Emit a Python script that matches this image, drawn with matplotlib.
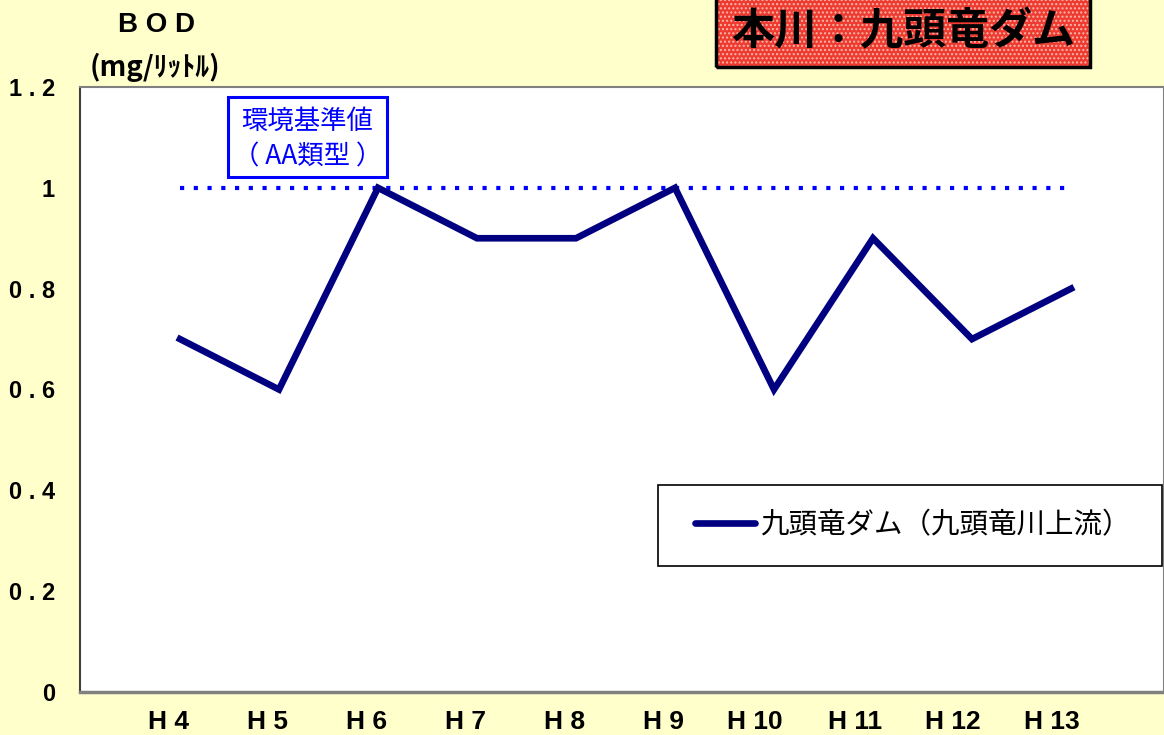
import matplotlib
matplotlib.use("Agg")
import matplotlib.pyplot as plt
from matplotlib.patches import Rectangle
from matplotlib import font_manager

plt.rcParams['font.family'] = ['Noto Sans CJK JP', 'DejaVu Sans']
plt.rcParams['hatch.linewidth'] = 1.0

categories = ["H 4", "H 5", "H 6", "H 7", "H 8", "H 9", "H 10", "H 11", "H 12", "H 13"]
bod_values = [0.7, 0.6, 1.0, 0.9, 0.9, 1.0, 0.6, 0.9, 0.7, 0.8]
standard_value = 1.0
y_ticks = [0, 0.2, 0.4, 0.6, 0.8, 1.0, 1.2]
y_tick_labels = ["0", "0 . 2", "0 . 4", "0 . 6", "0 . 8", "1", "1 . 2"]
series_label = "九頭竜ダム（九頭竜川上流）"
title_text = "本川：九頭竜ダム"
standard_label = "環境基準値\n（ AA類型 ）"

names = {f.name for f in font_manager.fontManager.ttflist}
narrow = "Liberation Sans Narrow" if "Liberation Sans Narrow" in names else "Liberation Sans"

W, H = 1164, 735
bg = "#FFFFCC"
fig = plt.figure(figsize=(W / 100, H / 100), dpi=100, facecolor=bg)

ax_left, ax_right, ax_top, ax_bottom = 80, 1164, 87, 692
ax = fig.add_axes([ax_left / W, 1 - ax_bottom / H, (ax_right - ax_left) / W, (ax_bottom - ax_top) / H])
ax.set_facecolor("white")

x = list(range(len(categories)))
ax.plot(x, bod_values, color="#000080", lw=4.8, solid_joinstyle="miter", label=series_label, zorder=3)
ax.plot([x[0], x[-1]], [standard_value, standard_value], color="#0000FF", lw=3.0,
        linestyle=(0, (1.0, 2.3)), zorder=2)

sp = 99.0
ax.set_xlim(-(180 - ax_left) / sp, (ax_right - 180) / sp)
ax.set_ylim(0, 1.2)

ax.set_yticks(y_ticks)
ax.set_yticklabels(y_tick_labels, fontfamily=narrow, fontweight="bold", fontsize=17)
ax.set_xticks(x)
ax.set_xticklabels([])
ax.tick_params(axis="both", length=0)
ax.tick_params(axis="y", pad=18)

for i, lab in enumerate(categories):
    ax.annotate(lab, xy=(i, 0), xycoords="data", xytext=(9, -30), textcoords="offset pixels",
                ha="right", va="center", fontfamily=narrow, fontweight="bold", fontsize=19,
                annotation_clip=False)

for s in ["top", "right"]:
    ax.spines[s].set_color("#808080")
    ax.spines[s].set_linewidth(1.5)
ax.spines["left"].set_color("#404040")
ax.spines["left"].set_linewidth(1.5)
ax.spines["bottom"].set_color("#808080")
ax.spines["bottom"].set_linewidth(2.5)

fig.text(157 / W, 1 - 25 / H, "B O D", ha="center", va="center", fontsize=20, fontweight="bold",
         fontfamily="Liberation Sans")
fig.text(155 / W, 1 - 67 / H, "(mg/ﾘｯﾄﾙ)", ha="center", va="center", fontsize=20, fontweight="bold")

bx0, by0, bx1, by1 = 716, 0, 1090, 67
fig.patches.append(Rectangle((bx0 / W, 1 - by1 / H), (bx1 - bx0) / W, (by1 - by0) / H,
                             transform=fig.transFigure, facecolor="#EE3A30", edgecolor="#F7B8A8",
                             hatch="....", lw=0, zorder=1))
fig.patches.append(Rectangle((bx0 / W, 1 - by1 / H), (bx1 - bx0) / W, (by1 - by0 + 4) / H,
                             transform=fig.transFigure, facecolor="none", edgecolor="black",
                             lw=2.5, zorder=2))
fig.text((bx0 + bx1) / 2 / W, 1 - 31 / H, title_text, ha="center", va="center", fontsize=31,
         fontweight="bold", color="black", zorder=3)

sx0, sy0, sx1, sy1 = 228, 97, 387, 177
fig.patches.append(Rectangle((sx0 / W, 1 - sy1 / H), (sx1 - sx0) / W, (sy1 - sy0) / H,
                             transform=fig.transFigure, facecolor="white", edgecolor="#0000FF",
                             lw=2.2, zorder=5))
fig.text((sx0 + sx1) / 2 / W, 1 - 139 / H, standard_label, ha="center", va="center",
         color="#0000FF", fontsize=19, linespacing=1.4, zorder=6)

lx0, ly0, lx1, ly1 = 658, 485, 1162, 566
fig.patches.append(Rectangle((lx0 / W, 1 - ly1 / H), (lx1 - lx0) / W, (ly1 - ly0) / H,
                             transform=fig.transFigure, facecolor="white", edgecolor="black",
                             lw=1.2, zorder=5))
fig.add_artist(plt.Line2D([695 / W, 755 / W], [1 - 523 / H, 1 - 523 / H], color="#000080", lw=4.8,
                          solid_capstyle="round", zorder=6))
fig.text(760 / W, 1 - 525 / H, series_label, ha="left", va="center", fontsize=20.5, zorder=6)

fig.savefig("out.png", dpi=100, facecolor=bg)
